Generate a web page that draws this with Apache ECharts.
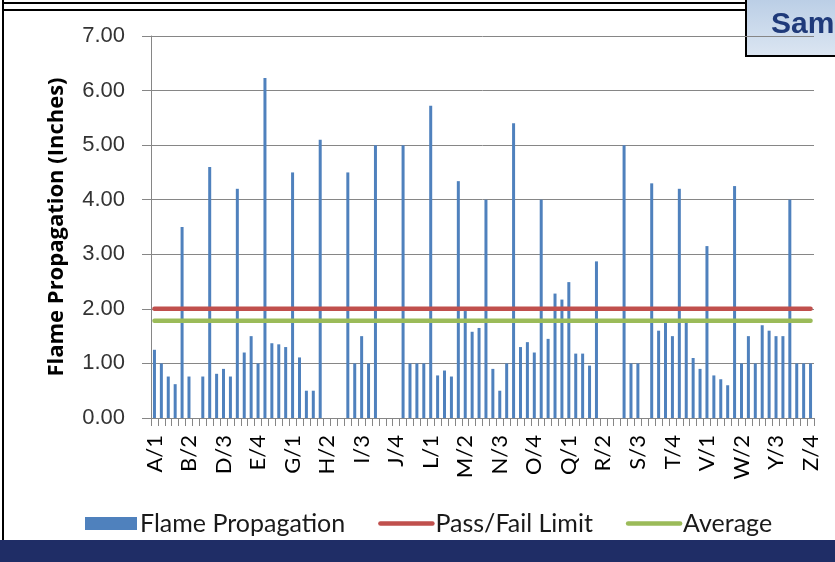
<!DOCTYPE html>
<html>
<head>
<meta charset="utf-8">
<script src="https://cdn.jsdelivr.net/npm/echarts@6/dist/echarts.min.js"></script>
<style>
  html, body { margin: 0; padding: 0; background: #ffffff; }
  #chart { width: 835px; height: 562px; }
</style>
</head>
<body>
<div id="chart"></div>
<script>
// Sample letters (C and X are not used) and the four positions tested on each
const sampleLetters = ['A','B','D','E','F','G','H','I','J','K','L','M','N','O','P','Q','R','S','T','U','V','W','Y','Z'];
const samplePositions = [1, 2, 3, 4];

// Flame propagation per sample position, inches (null = no result)
const flamePropagation = [
  1.25, 1.00, 0.76, 0.62,   3.50, 0.76, null, 0.76,   4.60, 0.81, 0.90, 0.76,
  4.20, 1.20, 1.50, 1.00,   6.23, 1.37, 1.35, 1.30,   4.50, 1.11, 0.50, 0.50,
  5.10, null, null, null,   4.50, 1.00, 1.50, 1.00,   5.00, null, null, null,
  5.00, 1.00, 1.00, 1.00,   5.72, 0.78, 0.87, 0.76,   4.34, 1.96, 1.58, 1.65,
  4.00, 0.90, 0.50, 1.00,   5.40, 1.30, 1.39, 1.20,   4.00, 1.45, 2.28, 2.17,
  2.49, 1.18, 1.18, 0.96,   2.87, null, null, null,   5.00, 1.00, 1.00, null,
  4.30, 1.60, 1.75, 1.50,   4.20, 1.75, 1.10, 0.90,   3.15, 0.78, 0.71, 0.60,
  4.25, 1.00, 1.50, 1.00,   1.70, 1.60, 1.50, 1.50,   4.00, 1.00, 1.00, 1.00
];

// Reference levels, inches
const passFailLimit = 2.00;
const averageValue = 1.78;

// Value axis ticks
const yTicks = [0, 1, 2, 3, 4, 5, 6, 7];

const categories = sampleLetters.flatMap(l => samplePositions.map(p => l + '/' + p));

const chart = echarts.init(document.getElementById('chart'), null, { renderer: 'canvas' });

const labelFont = 'Lato, "Open Sans", sans-serif';
const gridColor = '#868686';

chart.setOption({
  animation: false,
  backgroundColor: '#ffffff',
  grid: { left: 151, right: 21, top: 36, bottom: 144, containLabel: false },
  xAxis: {
    type: 'category',
    data: categories,
    boundaryGap: true,
    axisLine: { show: true, lineStyle: { color: gridColor, width: 1 } },
    axisTick: { show: true, interval: 0, alignWithLabel: false, length: 8, lineStyle: { color: gridColor } },
    axisLabel: {
      interval: 4, rotate: 90, margin: 17,
      fontFamily: labelFont, fontSize: 22, color: '#000000'
    },
    splitLine: { show: false }
  },
  yAxis: {
    type: 'value',
    min: yTicks[0],
    max: yTicks[yTicks.length - 1],
    interval: 1,
    name: 'Flame Propagation (Inches)',
    nameLocation: 'middle',
    nameGap: 83,
    nameRotate: 90,
    nameTextStyle: { fontFamily: '"Open Sans", Lato, sans-serif', fontWeight: 'bold', fontSize: 22, color: '#000000' },
    axisLine: { show: true, lineStyle: { color: gridColor, width: 1 } },
    axisTick: { show: true, length: 9, lineStyle: { color: gridColor } },
    axisLabel: {
      margin: 26,
      formatter: v => v.toFixed(2),
      fontFamily: '"Liberation Sans", Arial, sans-serif', fontSize: 22, color: '#333333'
    },
    splitLine: { show: true, lineStyle: { color: gridColor, width: 1 } }
  },
  legend: {
    left: 80, top: 506,
    itemWidth: 52, itemHeight: 13, itemGap: 33,
    textStyle: { fontFamily: labelFont, fontSize: 25, color: '#1a1a1a', padding: [0, 0, 0, -2] },
    data: [
      { name: 'Flame Propagation', icon: 'rect' },
      { name: 'Pass/Fail Limit', itemStyle: { opacity: 0 }, lineStyle: { width: 4.5, cap: 'round' } },
      { name: 'Average', itemStyle: { opacity: 0 }, lineStyle: { width: 4.5, cap: 'round' } }
    ]
  },
  series: [
    {
      name: 'Flame Propagation',
      type: 'bar',
      data: flamePropagation,
      barWidth: 3,
      itemStyle: { color: '#4F81BD' }
    },
    {
      name: 'Pass/Fail Limit',
      type: 'line',
      data: categories.map(() => passFailLimit),
      symbol: 'none',
      lineStyle: { color: '#C0504D', width: 4.5, cap: 'round' },
      itemStyle: { color: '#C0504D' },
      z: 3
    },
    {
      name: 'Average',
      type: 'line',
      data: categories.map(() => averageValue),
      symbol: 'none',
      lineStyle: { color: '#9BBB59', width: 4.5, cap: 'round' },
      itemStyle: { color: '#9BBB59' },
      z: 3
    }
  ],
  graphic: [
    // page frame: left rule, double rule across the top
    { type: 'rect', shape: { x: 2, y: 0, width: 2, height: 540 }, style: { fill: '#000000' }, silent: true },
    { type: 'rect', shape: { x: 2, y: 2, width: 745, height: 2 }, style: { fill: '#000000' }, silent: true },
    { type: 'rect', shape: { x: 2, y: 9, width: 745, height: 2 }, style: { fill: '#000000' }, silent: true },
    // title tab at the top right
    {
      type: 'rect',
      shape: { x: 746, y: -3, width: 100, height: 59 },
      style: {
        fill: new echarts.graphic.LinearGradient(0, 0, 0, 1, [
          { offset: 0, color: '#B9CDE5' },
          { offset: 1, color: '#DCE6F2' }
        ]),
        stroke: '#000000', lineWidth: 2
      },
      silent: true
    },
    {
      type: 'text', x: 771, y: 25,
      style: { text: 'Sample', fill: '#1F3A7A', font: 'bold 30px "Liberation Sans", Arial, sans-serif', verticalAlign: 'middle' },
      silent: true
    },
    // footer band
    { type: 'rect', shape: { x: 0, y: 540, width: 835, height: 22 }, style: { fill: '#1F2D66' }, silent: true }
  ]
});
</script>
</body>
</html>
